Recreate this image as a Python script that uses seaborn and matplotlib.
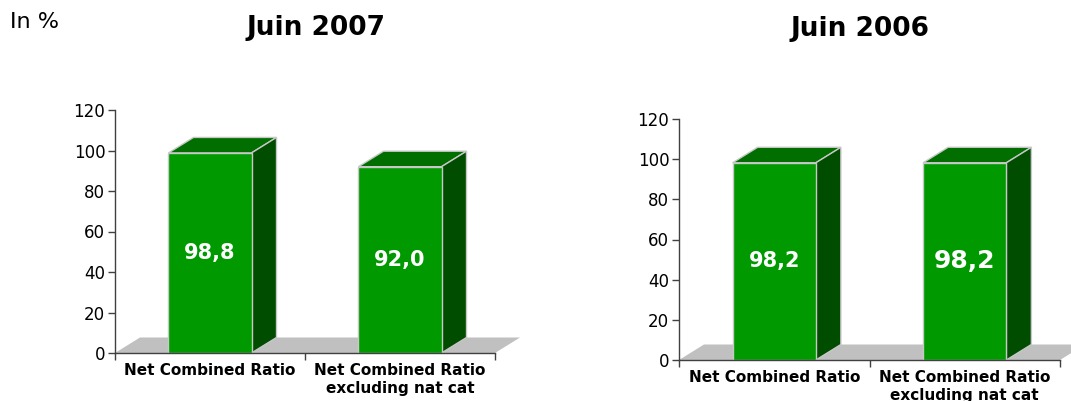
import pandas as pd
import matplotlib
matplotlib.use("Agg")
import matplotlib.pyplot as plt
import seaborn as sns
from matplotlib.patches import Polygon

# data
categories = ["Net Combined Ratio", "Net Combined Ratio\nexcluding nat cat"]
values_2007 = [98.8, 92.0]
values_2006 = [98.2, 98.2]
labels_2007 = ["98,8", "92,0"]
labels_2006 = ["98,2", "98,2"]
yticks = [0, 20, 40, 60, 80, 100, 120]

FRONT = "#009900"
TOP = "#006f00"
SIDE = "#004d00"
FLOOR = "#c0c0c0"
EDGE = "#c8c8c8"
W, H = 1071, 401

sns.set_style("ticks")
plt.rcParams["font.family"] = ["DejaVu Sans"]
plt.rcParams["text.color"] = "black"

fig = plt.figure(figsize=(W / 100, H / 100), dpi=100)


def px_box(x0, x1, ytop, ybot):
    return [x0 / W, (H - ybot) / H, (x1 - x0) / W, (ybot - ytop) / H]


def draw_panel(ax, values, labels, label_sizes, depth=(25, 15.5)):
    df = pd.DataFrame({"cat": categories, "val": values})
    sns.barplot(data=df, x="cat", y="val", color=FRONT, width=0.437,
                saturation=1, edgecolor=EDGE, linewidth=1, ax=ax, zorder=4)
    ax.set_xlim(-0.5, 1.5)
    ax.set_ylim(0, 120)

    # 3d depth in data units, from the axes size in pixels
    pos = ax.get_position()
    dx = depth[0] / (pos.width * W) * 2.0
    dy = depth[1] / (pos.height * H) * 120.0

    # grey floor
    floor = Polygon([(-0.5, 0), (-0.5 + dx, dy), (1.5 + dx, dy), (1.5, 0)],
                    closed=True, facecolor=FLOOR, edgecolor="none",
                    clip_on=False, zorder=1)
    ax.add_patch(floor)

    bars = [p for p in ax.patches if p is not floor]
    for p, lab, fs in zip(bars, labels, label_sizes):
        x0, w, h = p.get_x(), p.get_width(), p.get_height()
        x1 = x0 + w
        top = Polygon([(x0, h), (x1, h), (x1 + dx, h + dy), (x0 + dx, h + dy)],
                      closed=True, facecolor=TOP, edgecolor=EDGE, lw=1,
                      clip_on=False, zorder=3)
        side = Polygon([(x1, 0), (x1 + dx, dy), (x1 + dx, h + dy), (x1, h)],
                       closed=True, facecolor=SIDE, edgecolor=EDGE, lw=1,
                       clip_on=False, zorder=3)
        ax.add_patch(top)
        ax.add_patch(side)
        ax.text(x0 + w / 2, h / 2, lab, color="white", fontsize=fs,
                fontweight="bold", ha="center", va="center", zorder=5)

    ax.set_xlabel("")
    ax.set_ylabel("")
    ax.set_yticks(yticks)
    ax.set_xticks([0, 1])
    ax.set_xticklabels(categories, fontweight="bold", fontsize=11,
                       linespacing=1.25)
    ax.set_xticks([-0.5, 0.5, 1.5], minor=True)
    ax.tick_params(axis="x", which="major", length=0, pad=7,
                   labelcolor="black")
    ax.tick_params(axis="x", which="minor", length=5, width=1, color="#404040")
    ax.tick_params(axis="y", length=5, width=1, color="#404040", pad=2,
                   labelsize=12, labelcolor="black")
    sns.despine(ax=ax)
    for s in ("left", "bottom"):
        ax.spines[s].set_color("#404040")
        ax.spines[s].set_linewidth(1)
        ax.spines[s].set_zorder(6)


ax1 = fig.add_axes(px_box(115, 495, 110, 353))
draw_panel(ax1, values_2007, labels_2007, [15, 15])

ax2 = fig.add_axes(px_box(679, 1060, 119, 360))
draw_panel(ax2, values_2006, labels_2006, [15, 18])

fig.text(316 / W, 1 - 28 / H, "Juin 2007", fontsize=19, fontweight="bold",
         ha="center", va="center", color="black")
fig.text(860 / W, 1 - 29 / H, "Juin 2006", fontsize=19, fontweight="bold",
         ha="center", va="center", color="black")
fig.text(10 / W, 1 - 22 / H, "In %", fontsize=16, ha="left", va="center",
         color="black")

fig.savefig("out.png", dpi=100)
